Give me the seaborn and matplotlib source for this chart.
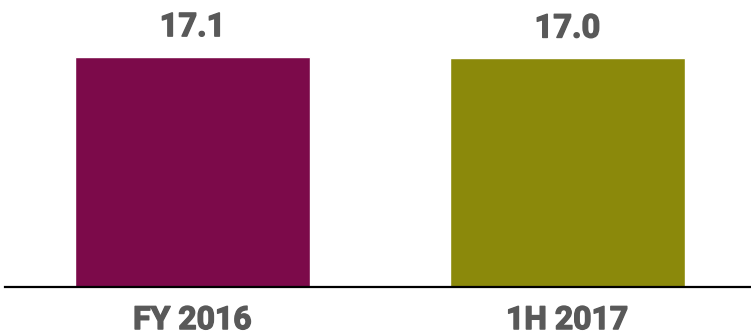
import matplotlib
matplotlib.use("Agg")
import matplotlib.pyplot as plt
import matplotlib.patheffects as pe
import seaborn as sns
import pandas as pd

periods = ["FY 2016", "1H 2017"]
values = [17.1, 17.0]
value_labels = ["17.1", "17.0"]
bar_colors = ["#7C0A4A", "#8B890B"]

text_color = "#595959"

sns.set_theme(style="white")
plt.rcParams["font.family"] = ["Roboto", "DejaVu Sans"]

df = pd.DataFrame({"period": periods, "value": values})

fig = plt.figure(figsize=(7.51, 3.34), dpi=100)
ax = fig.add_axes([5 / 751, 47 / 334, 746 / 751, 287 / 334])

sns.barplot(data=df, x="period", y="value", hue="period",
            palette=bar_colors, width=0.627, legend=False,
            saturation=1, ax=ax)

ax.set_xlim(-0.5, 1.49)
ax.set_ylim(0, 21.34)

for sp in ["top", "left", "right"]:
    ax.spines[sp].set_visible(False)
ax.spines["bottom"].set_color("black")
ax.spines["bottom"].set_linewidth(1.6)

# slightly heavier strokes on the bold labels
heavy = [pe.withStroke(linewidth=1.0, foreground=text_color)]

ax.set_yticks([])
ax.set_xlabel("")
ax.set_ylabel("")
ax.tick_params(axis="x", length=0, pad=13)
ax.set_xticks(range(len(periods)))
ax.set_xticklabels(periods, fontsize=23, fontweight="bold", color=text_color)
for lbl in ax.get_xticklabels():
    lbl.set_path_effects(heavy)

for container in ax.containers:
    labels = [value_labels[int(round(b.get_x() + b.get_width() / 2))] for b in container]
    texts = ax.bar_label(container, labels=labels, padding=10,
                         fontsize=23.5, fontweight="bold", color=text_color)
    for t in texts:
        t.set_path_effects(heavy)

fig.savefig("out.png", dpi=100)
